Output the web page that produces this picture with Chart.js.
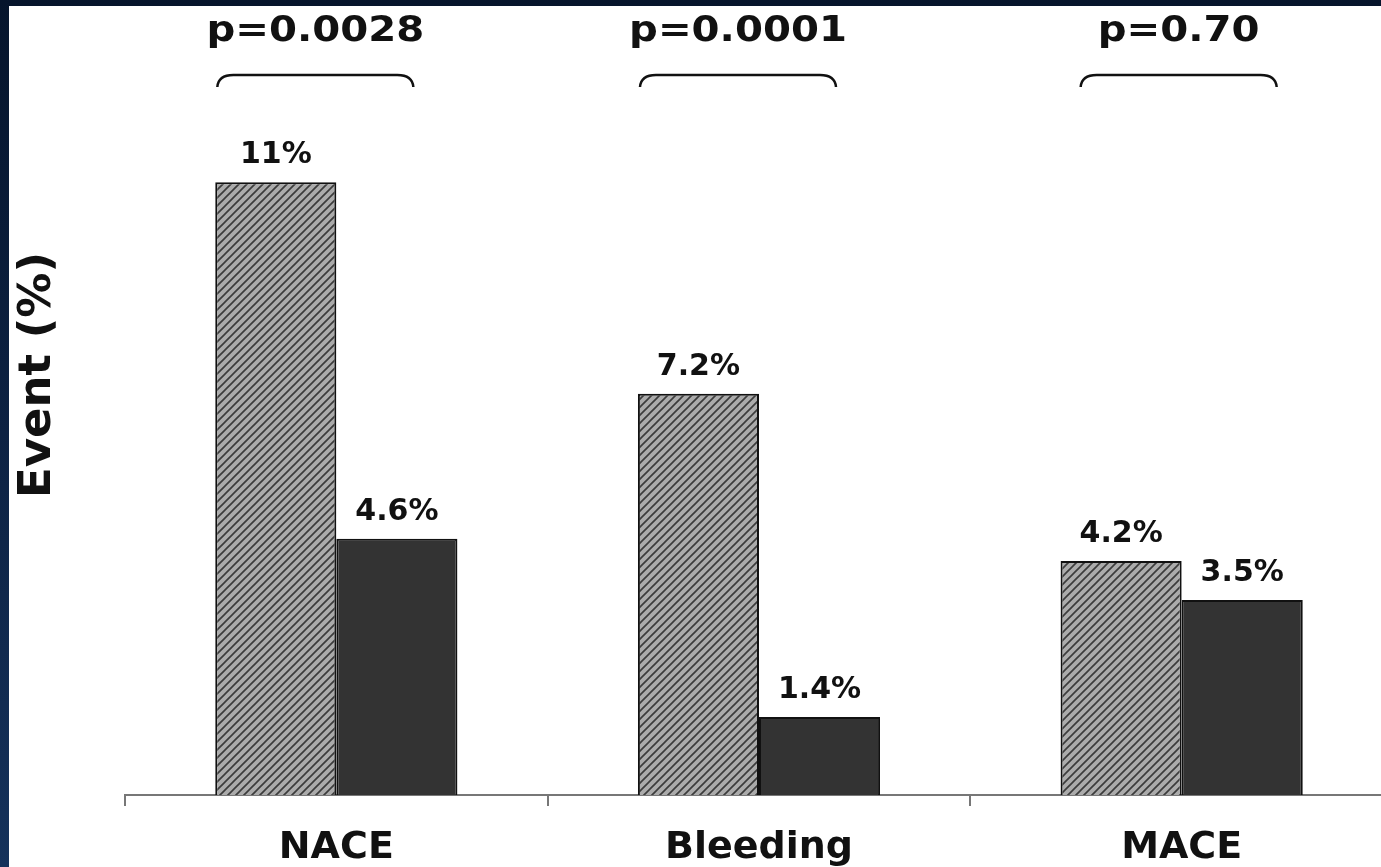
<!DOCTYPE html>
<html>
<head>
<meta charset="utf-8">
<title>Event (%)</title>
<script src="https://cdn.jsdelivr.net/npm/chart.js@4.4.1/dist/chart.umd.min.js"></script>
<style>
  html, body { margin: 0; padding: 0; }
  body {
    width: 1381px; height: 867px; overflow: hidden; position: relative;
    background: linear-gradient(to bottom, #06152c 0%, #0d2243 50%, #15325b 100%);
  }
  #wrap { position: absolute; left: 9px; top: 6px; width: 1384px; height: 890px; background: #fff; }
</style>
</head>
<body>
<div id="wrap"><canvas id="eventChart"></canvas></div>
<script>
// chart data
const categories = ['NACE', 'Bleeding', 'MACE'];
const hatchedValues = [11, 7.2, 4.2];
const solidValues = [4.6, 1.4, 3.5];
const pValues = ['p=0.0028', 'p=0.0001', 'p=0.70'];
const yTitle = 'Event (%)';

const FONT = '"DejaVu Sans", Verdana, sans-serif';

// diagonal hatch fill for the first series
function makeHatch() {
    const s = 8;
    const c = document.createElement('canvas');
    c.width = s; c.height = s;
    const g = c.getContext('2d');
    g.fillStyle = '#ababab';
    g.fillRect(0, 0, s, s);
    g.strokeStyle = '#3c3c3c';
    g.lineWidth = 1.7;
    g.beginPath();
    g.moveTo(-1, s + 1); g.lineTo(s + 1, -1);
    g.moveTo(-1, 1); g.lineTo(1, -1);
    g.moveTo(s - 1, s + 1); g.lineTo(s + 1, s - 1);
    g.stroke();
    return g.createPattern(c, 'repeat');
}

// value labels, p-value braces and y title
const annotations = {
    id: 'annotations',
    afterDatasetsDraw(chart) {
        const ctx = chart.ctx;
        const x = chart.scales.x;
        const top = chart.chartArea.top;
        ctx.save();
        ctx.fillStyle = '#111';
        ctx.textAlign = 'center';
        ctx.textBaseline = 'alphabetic';
        ctx.font = 'bold 30px ' + FONT;
        chart.data.datasets.forEach((ds, di) => {
            chart.getDatasetMeta(di).data.forEach((bar, i) => {
                ctx.fillText(ds.data[i] + '%', bar.x, bar.y - 19);
            });
        });

        // braces + p values
        const shift = [-21, -21, -3];
        const half = 98;
        pValues.forEach((p, i) => {
            const cx = x.getPixelForValue(i) + shift[i];
            const ly = top + 60;
            ctx.strokeStyle = '#111';
            ctx.lineWidth = 2.5;
            ctx.beginPath();
            ctx.moveTo(cx - half, ly + 12);
            ctx.quadraticCurveTo(cx - half + 1, ly, cx - half + 16, ly);
            ctx.lineTo(cx + half - 16, ly);
            ctx.quadraticCurveTo(cx + half - 1, ly, cx + half, ly + 12);
            ctx.stroke();

            ctx.save();
            ctx.translate(cx, top + 26);
            ctx.scale(1.15, 1);
            ctx.font = 'bold 35px ' + FONT;
            ctx.fillText(p, 0, 0);
            ctx.restore();
        });

        // y axis title
        ctx.save();
        ctx.translate(41, 369);
        ctx.rotate(-Math.PI / 2);
        ctx.font = 'bold 45px ' + FONT;
        ctx.fillText(yTitle, 0, 0);
        ctx.restore();
        ctx.restore();
    }
};

const ctx = document.getElementById('eventChart').getContext('2d');
const eventChart = new Chart(ctx, {
    type: 'bar',
    data: {
        labels: categories,
        datasets: [{
            label: 'Group 1',
            data: hatchedValues,
            backgroundColor: makeHatch(),
            borderColor: '#111',
            borderWidth: 2,
            borderSkipped: 'start'
        }, {
            label: 'Group 2',
            data: solidValues,
            backgroundColor: '#333333',
            borderColor: '#111',
            borderWidth: 2,
            borderSkipped: 'start'
        }]
    },
    options: {
        responsive: true,
        maintainAspectRatio: false,
        animation: false,
        layout: { padding: { left: 116, top: 9, right: 0, bottom: 6 } },
        datasets: { bar: { barPercentage: 1, categoryPercentage: 0.573 } },
        plugins: { legend: { display: false }, tooltip: { enabled: false } },
        scales: {
            x: {
                offset: true,
                grid: { display: true, drawOnChartArea: false, drawTicks: true, tickLength: 11, color: '#777', lineWidth: 2 },
                border: { display: true, color: '#777', width: 2 },
                ticks: { color: '#111', padding: 23, font: { family: FONT, size: 38, weight: 'bold', lineHeight: 1 } }
            },
            y: {
                display: false,
                min: 0,
                max: 14
            }
        }
    },
    plugins: [annotations]
});
</script>
</body>
</html>
